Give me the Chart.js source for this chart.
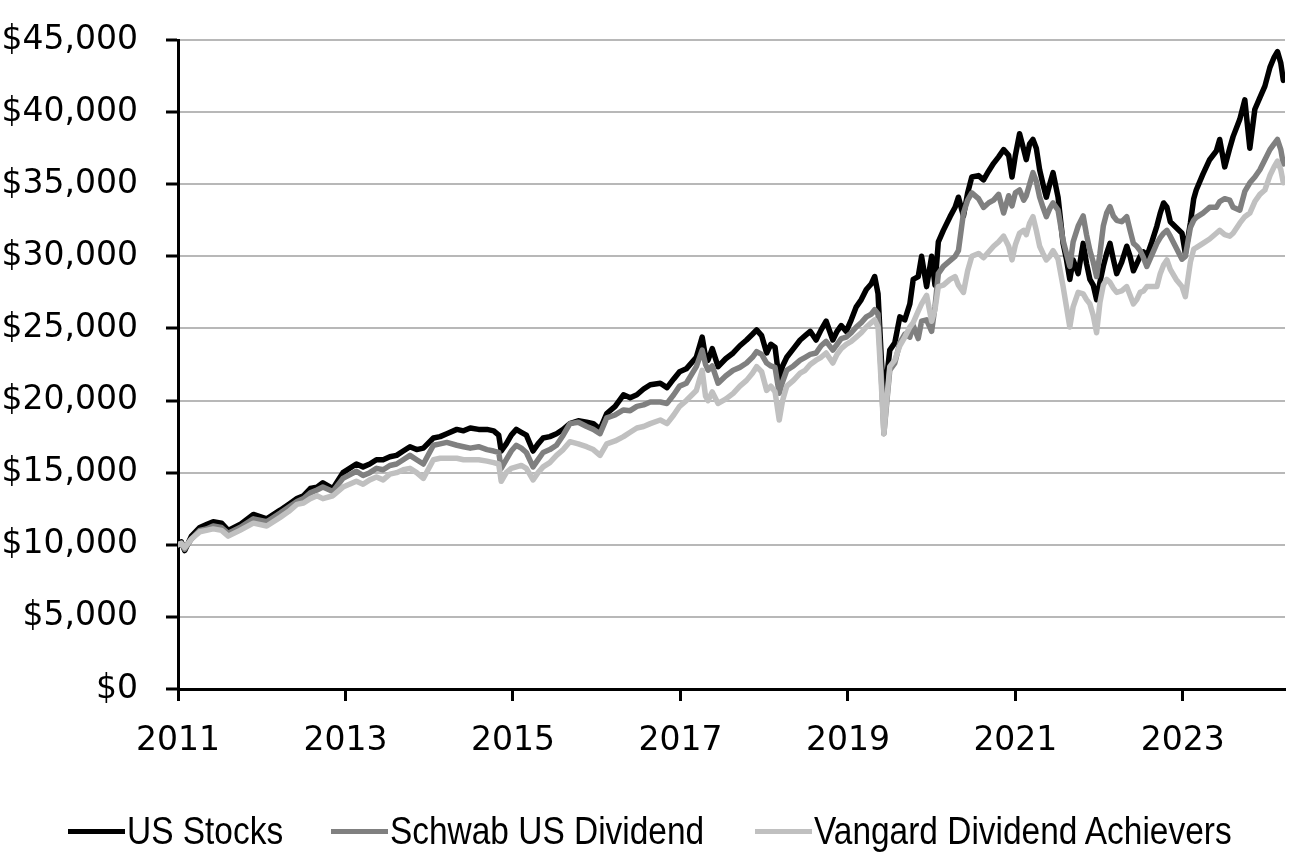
<!DOCTYPE html>
<html>
<head>
<meta charset="utf-8">
<script src="https://cdn.jsdelivr.net/npm/chart.js@4.4.1/dist/chart.umd.min.js"></script>
<style>
  html, body { margin: 0; padding: 0; background: #ffffff; }
  #wrap { position: relative; width: 1290px; height: 855px; overflow: hidden; }
  #legend { position: absolute; left: 0; top: 811px; width: 1290px; height: 40px;
            font-family: "Liberation Sans", Arial, sans-serif;
            font-size: 38px; color: #000; }
  .item { position: absolute; top: 0; height: 40px; display: flex; align-items: center; white-space: nowrap; }
  .swatch { display: inline-block; width: 57px; height: 5px; margin-right: 2px; flex: none; }
  .label { display: inline-block; transform: scaleX(0.88); transform-origin: left center; }
</style>
</head>
<body>
<div id="wrap">
  <canvas id="chart" width="1290" height="855"></canvas>
  <div id="legend"></div>
</div>
<script>
// ---- data (x = fractional year, y = portfolio value in $) ----
const years = [
  2011.00,2011.04,2011.08,2011.16,2011.26,2011.34,2011.42,2011.52,2011.60,2011.74,2011.90,
  2012.06,2012.22,2012.32,2012.42,2012.50,2012.58,2012.66,2012.73,2012.85,2012.97,
  2013.13,2013.21,2013.29,2013.37,2013.45,2013.53,2013.61,2013.69,2013.77,2013.85,2013.93,
  2014.05,2014.13,2014.21,2014.33,2014.41,2014.49,2014.59,2014.69,2014.77,2014.83,2014.86,2014.92,2014.98,
  2015.04,2015.10,2015.16,2015.24,2015.30,2015.36,2015.44,2015.52,2015.60,2015.68,2015.78,2015.88,2015.96,
  2016.04,2016.12,2016.22,2016.32,2016.40,2016.48,2016.56,2016.64,2016.76,2016.84,2016.92,2016.99,
  2017.07,2017.19,2017.26,2017.30,2017.33,2017.38,2017.45,2017.54,2017.63,2017.71,2017.79,2017.86,2017.91,2017.97,
  2018.03,2018.08,2018.13,2018.18,2018.22,2018.27,2018.35,2018.43,2018.49,2018.55,2018.62,2018.68,2018.74,2018.82,2018.87,2018.92,2018.98,
  2019.04,2019.10,2019.16,2019.22,2019.28,2019.32,2019.36,2019.40,2019.43,2019.46,2019.50,2019.56,2019.62,2019.68,2019.74,2019.78,2019.84,2019.88,2019.94,
  2020.00,2020.04,2020.08,2020.14,2020.22,2020.28,2020.32,2020.38,2020.43,2020.48,2020.56,2020.62,2020.68,2020.74,2020.80,2020.86,2020.92,2020.96,
  2021.00,2021.05,2021.10,2021.13,2021.17,2021.21,2021.25,2021.29,2021.33,2021.37,2021.41,2021.45,2021.51,2021.57,2021.61,2021.65,2021.69,2021.75,2021.81,2021.85,2021.89,2021.93,2021.97,
  2022.01,2022.05,2022.09,2022.13,2022.17,2022.21,2022.27,2022.33,2022.37,2022.41,2022.45,2022.49,2022.53,2022.57,2022.63,2022.69,2022.73,2022.77,2022.81,2022.85,2022.92,2022.99,
  2023.03,2023.09,2023.13,2023.16,2023.24,2023.32,2023.40,2023.44,2023.50,2023.56,2023.60,2023.68,2023.74,2023.80,2023.86,2023.92,2023.98,
  2024.04,2024.09,2024.13,2024.17,2024.20,2024.22
];

const usStocks = [
  10000,10200,9600,10600,11200,11400,11600,11500,11000,11400,12100,
  11800,12400,12800,13200,13400,13900,14000,14300,13900,15000,
  15600,15400,15600,15900,15900,16100,16200,16500,16800,16600,16700,
  17400,17500,17700,18000,17900,18100,18000,18000,17900,17600,16500,17000,17600,
  18000,17800,17600,16500,17000,17400,17500,17700,18000,18400,18600,18500,18400,
  18000,19100,19600,20400,20200,20400,20800,21100,21200,20900,21500,22000,
  22200,23000,24400,23000,22800,23600,22350,22900,23300,23800,24200,24600,24900,24500,
  23300,23900,23700,21400,22400,23000,23600,24200,24500,24800,24200,24900,25500,24200,24800,25200,24800,
  25600,26500,27000,27700,28100,28600,27400,22800,20000,21400,23500,24000,25800,25600,26700,28400,28600,30000,27900,
  30000,28000,31000,31800,32750,33400,34100,32800,34400,35500,35600,35300,35900,36450,36900,37400,37000,35500,
  37000,38500,37400,36700,37800,38100,37500,36000,35000,34100,35000,35800,34100,30900,29800,28400,29750,28800,30900,29500,28400,28000,27000,
  28200,29300,30200,30900,29800,28800,29600,30700,30000,29000,29500,30000,30300,30000,31000,32100,33000,33700,33400,32400,32000,31600,
  30200,32300,34000,34600,35700,36700,37300,38100,36200,37500,38300,39500,40850,37500,40200,41000,41800,
  43100,43800,44200,43400,42200,42500
];

const schwabDividend = [
  10000,10100,9700,10400,11000,11100,11300,11200,10800,11200,11800,
  11600,12200,12600,13000,13200,13600,13800,14000,13700,14600,
  15100,14800,15000,15300,15200,15500,15600,15900,16200,15900,15600,
  16900,17000,17100,16900,16800,16700,16800,16600,16500,16400,15300,15900,16500,
  16900,16700,16400,15400,15900,16400,16600,16900,17600,18400,18500,18200,18000,
  17700,18800,19000,19350,19300,19600,19700,19900,19900,19800,20400,21000,
  21200,22350,23500,22500,22100,22400,21200,21700,22100,22300,22600,23000,23400,23200,
  22600,22400,22300,20500,21300,22100,22400,22800,23000,23200,23300,23800,24100,23500,23900,24300,24400,
  24700,25100,25400,25800,26000,26300,26000,21600,17700,19600,22100,22600,24000,24600,24400,25200,24300,25500,25600,
  24800,26500,28800,29300,29700,30000,30400,33000,33900,34400,34000,33400,33700,33900,34300,33000,34200,33500,
  34400,34600,33900,34200,35000,35800,35200,34100,33400,32750,33300,33700,33200,31100,30200,29300,31000,32100,32800,31500,30400,29600,28600,
  30200,32100,33000,33450,32800,32500,32400,32750,31800,30900,30700,30400,29900,29300,30100,30900,31300,31600,31800,31400,30600,29800,
  30000,32000,32500,32700,33000,33400,33400,33800,34000,33900,33400,33200,34500,35100,35500,36000,36700,
  37400,37800,38100,37400,36400,36600
];

const vangardAchievers = [
  10000,10100,9800,10400,10900,11000,11100,11000,10600,11000,11500,
  11300,11900,12300,12800,12900,13200,13400,13200,13400,14000,
  14400,14200,14500,14700,14500,14900,15000,15200,15300,15000,14600,
  15900,16000,16000,16000,15900,15900,15900,15800,15700,15600,14400,15000,15300,
  15400,15500,15300,14500,15000,15400,15700,16200,16600,17150,17000,16800,16600,
  16200,17000,17200,17500,17800,18100,18200,18400,18650,18400,19000,19600,
  20000,20700,22100,20300,20000,20600,19800,20100,20500,21000,21400,21900,22350,22000,
  20700,21000,20600,18650,20000,21000,21400,21900,22100,22500,22800,23000,23300,22600,23200,23600,23900,
  24100,24400,24700,25100,25400,25600,25100,21000,17700,19800,22350,22800,23800,24400,25100,25400,26200,26700,27300,
  25500,26300,27900,28000,28400,28600,28000,27500,29000,30000,30200,29900,30300,30700,31000,31400,30700,29750,
  30800,31600,31800,31500,32300,32750,31800,30700,30200,29750,30000,30400,29800,27900,26500,25100,26500,27500,27400,27000,26700,25900,24700,
  26800,28000,28400,28200,27800,27500,27600,27900,27300,26700,27000,27500,27600,27900,27900,27900,28800,29400,29750,29100,28400,27900,
  27200,29600,30500,30600,30900,31200,31600,31800,31500,31400,31600,32300,32750,33000,33800,34300,34600,
  35600,36200,36600,36000,35100,35300
];

const seriesNames = ["US Stocks", "Schwab US Dividend", "Vangard Dividend Achievers"];
const seriesColors = ["#000000", "#808080", "#c0c0c0"];
const tickYears = [2011, 2013, 2015, 2017, 2019, 2021, 2023];
const yTicks = [0, 5000, 10000, 15000, 20000, 25000, 30000, 35000, 40000, 45000];

// ---- build chart ----
const seriesValues = [usStocks, schwabDividend, vangardAchievers];
const datasets = seriesValues.map((vals, i) => ({
  label: seriesNames[i],
  data: years.map((yr, k) => ({ x: yr, y: vals[k] })),
  borderColor: seriesColors[i],
  backgroundColor: seriesColors[i],
  borderWidth: 5.5,
  pointRadius: 0,
  tension: 0,
  borderJoinStyle: 'round',
  borderCapStyle: 'round',
  order: 2 - i
}));

const tickFont = { family: "'DejaVu Sans', sans-serif", size: 33 };

new Chart(document.getElementById('chart'), {
  type: 'line',
  data: { datasets },
  options: {
    responsive: false,
    animation: false,
    events: [],
    layout: { padding: { top: 40, right: 5, left: 0, bottom: 96 } },
    plugins: { legend: { display: false }, tooltip: { enabled: false } },
    scales: {
      x: {
        type: 'linear',
        min: 2011,
        max: 2024.22,
        afterFit: s => { s.height = 70; s.paddingLeft = 0; s.paddingRight = 0; },
        afterBuildTicks: s => { s.ticks = tickYears.map(v => ({ value: v })); },
        grid: { drawOnChartArea: false, drawTicks: true, tickLength: 12, tickColor: '#000', tickWidth: 3 },
        border: { display: true, color: '#000', width: 3 },
        ticks: { font: tickFont, color: '#000', padding: 21, maxRotation: 0, autoSkip: false,
                 callback: v => String(v) }
      },
      y: {
        min: 0,
        max: 45000,
        afterFit: s => { s.width = 178; s.paddingTop = 0; s.paddingBottom = 0; },
        afterBuildTicks: s => { s.ticks = yTicks.map(v => ({ value: v })); },
        grid: { color: '#b8b8b8', lineWidth: 2, drawTicks: true, tickLength: 12, tickColor: '#000', tickWidth: 3 },
        border: { display: true, color: '#000', width: 3 },
        ticks: { font: tickFont, color: '#000', padding: 28,
                 callback: v => '$' + Number(v).toLocaleString('en-US') }
      }
    }
  }
});

// ---- legend (HTML) ----
const legendLeft = [68, 331, 755];
const legend = document.getElementById('legend');
seriesNames.forEach((name, i) => {
  const item = document.createElement('div');
  item.className = 'item';
  item.style.left = legendLeft[i] + 'px';
  const sw = document.createElement('span');
  sw.className = 'swatch';
  sw.style.background = seriesColors[i];
  const tx = document.createElement('span');
  tx.className = 'label';
  tx.textContent = name;
  item.appendChild(sw);
  item.appendChild(tx);
  legend.appendChild(item);
});
</script>
</body>
</html>
